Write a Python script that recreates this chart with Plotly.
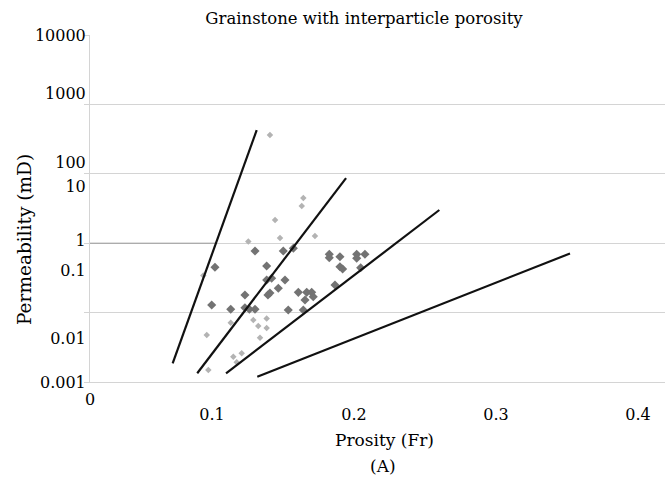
import plotly.graph_objects as go

# ---------------- data ----------------
title_text = "Grainstone with interparticle porosity"
x_title = "Prosity (Fr)"
y_title = "Permeability (mD)"
sub_label = "(A)"

# dark sample points (porosity fraction, permeability mD)
dark_phi = [0.1303, 0.1021, 0.1385, 0.1385, 0.1232, 0.0998, 0.1132, 0.1232, 0.1263, 0.1303,
            0.1394, 0.1502, 0.1573, 0.1826, 0.1826, 0.1901, 0.2019, 0.2019, 0.2077, 0.1901,
            0.1920, 0.2047, 0.1420, 0.1514, 0.1467, 0.1408, 0.1608, 0.1667, 0.1702, 0.1713,
            0.1655, 0.1866, 0.1537, 0.1643]
dark_k = [0.44, 0.206, 0.219, 0.114, 0.0569, 0.0357, 0.0293, 0.0315, 0.0293, 0.0293,
          0.0569, 0.44, 0.50, 0.377, 0.32, 0.337, 0.377, 0.313, 0.377, 0.212,
          0.190, 0.202, 0.124, 0.114, 0.0776, 0.0624, 0.0644, 0.0644, 0.0644, 0.0526,
          0.0451, 0.0906, 0.0283, 0.0283]

# light sample points
light_phi = [0.1408, 0.1643, 0.1632, 0.1444, 0.1479, 0.1725, 0.1256, 0.0939, 0.1132, 0.1291,
             0.1326, 0.1385, 0.0963, 0.1338, 0.1209, 0.1150, 0.1174, 0.0974, 0.1385]
light_k = [96, 5.15, 3.55, 1.85, 0.80, 0.88, 0.68, 0.141, 0.0157, 0.0178,
           0.0135, 0.0123, 0.00887, 0.00782, 0.00379, 0.00324, 0.00250, 0.00175, 0.0192]

# rock-class boundary lines (start, end)
line_phi = [[0.0723, 0.1315], [0.0896, 0.1944], [0.1099, 0.2601], [0.1319, 0.3521]]
line_k = [[0.00238, 121], [0.0015, 13.0], [0.0015, 2.95], [0.00128, 0.391]]

# highlighted reference line at the "1" gridline
ref_phi = [0.0141, 0.1021]
ref_k = [10 ** -0.2, 10 ** -0.2]

# axis ticks
x_tickvals = [0.0141, 0.1, 0.2, 0.3, 0.4]
x_ticktext = ["0", "0.1", "0.2", "0.3", "0.4"]
x_range = [0.0141, 0.419]

y_label_pos = [4.0, 2.830, 1.438, 0.954, -0.136, -0.741, -2.113, -3.0]
y_ticktext = ["10000", "1000", "100", "10", "1", "0.1", "0.01", "0.001"]
y_grid_pos = [-3.0, -1.6, -0.2, 1.2, 2.6, 4.0]
y_range_log = [-3.0, 4.0]

# ---------------- figure ----------------
serif = "DejaVu Serif"
fig = go.Figure()

fig.add_trace(go.Scatter(x=ref_phi, y=ref_k, mode="lines",
                         line=dict(color="#9a9a9a", width=1), showlegend=False,
                         hoverinfo="skip"))

fig.add_trace(go.Scatter(x=light_phi, y=light_k, mode="markers",
                         marker=dict(symbol="diamond", size=5, color="#b3b3b3"),
                         showlegend=False))
fig.add_trace(go.Scatter(x=dark_phi, y=dark_k, mode="markers",
                         marker=dict(symbol="diamond", size=7, color="#737373"),
                         showlegend=False))

for lx, ly in zip(line_phi, line_k):
    fig.add_trace(go.Scatter(x=lx, y=ly, mode="lines",
                             line=dict(color="#111111", width=2.2), showlegend=False))


def px_x(px):
    return (px - 90) / 575


def px_y(py):
    return (382 - py) / 347


fig.update_layout(
    width=665, height=479,
    margin=dict(l=90, r=0, t=35, b=97),
    paper_bgcolor="white", plot_bgcolor="white",
    font=dict(family=serif, color="#000000", size=16),
    title=dict(text=title_text, x=px_x(364), xref="paper", xanchor="center",
               y=1 - 18 / 479, yanchor="middle", font=dict(family=serif, size=16.5)),
)

fig.update_xaxes(
    type="linear", range=x_range,
    tickmode="array", tickvals=x_tickvals[1:], ticktext=x_ticktext[1:],
    showgrid=False, zeroline=False,
    showline=True, linecolor="#d4d4d4", linewidth=1,
    ticks="outside", ticklen=18, tickcolor="rgba(0,0,0,0)",
    tickfont=dict(family=serif, size=16),
)

fig.update_yaxes(
    type="log", range=y_range_log,
    tickmode="array", tickvals=[10 ** v for v in y_label_pos], ticktext=y_ticktext,
    showgrid=False, zeroline=False,
    showline=True, linecolor="#d4d4d4", linewidth=1,
    ticks="", tickfont=dict(family=serif, size=16),
    minor=dict(tickmode="array", tickvals=[10 ** v for v in y_grid_pos],
               showgrid=True, gridcolor="#d4d4d4", gridwidth=1.2,
               ticks="outside", ticklen=5, tickcolor="#d4d4d4"),
)

# "0" origin label of the x axis
fig.add_annotation(text=x_ticktext[0], x=x_tickvals[0], y=px_y(399), xref="x", yref="paper",
                   showarrow=False, xanchor="center", yanchor="middle",
                   font=dict(family=serif, size=16))
fig.add_annotation(text=y_title, textangle=-90, x=px_x(25), y=px_y(240),
                   xref="paper", yref="paper", showarrow=False,
                   xanchor="center", yanchor="middle", font=dict(family=serif, size=18.5))
fig.add_annotation(text=x_title, x=px_x(384), y=px_y(440),
                   xref="paper", yref="paper", showarrow=False, yanchor="middle",
                   font=dict(family=serif, size=17))
fig.add_annotation(text=sub_label, x=px_x(383), y=px_y(466),
                   xref="paper", yref="paper", showarrow=False, yanchor="middle",
                   font=dict(family=serif, size=17))

fig.write_html("out.html")
